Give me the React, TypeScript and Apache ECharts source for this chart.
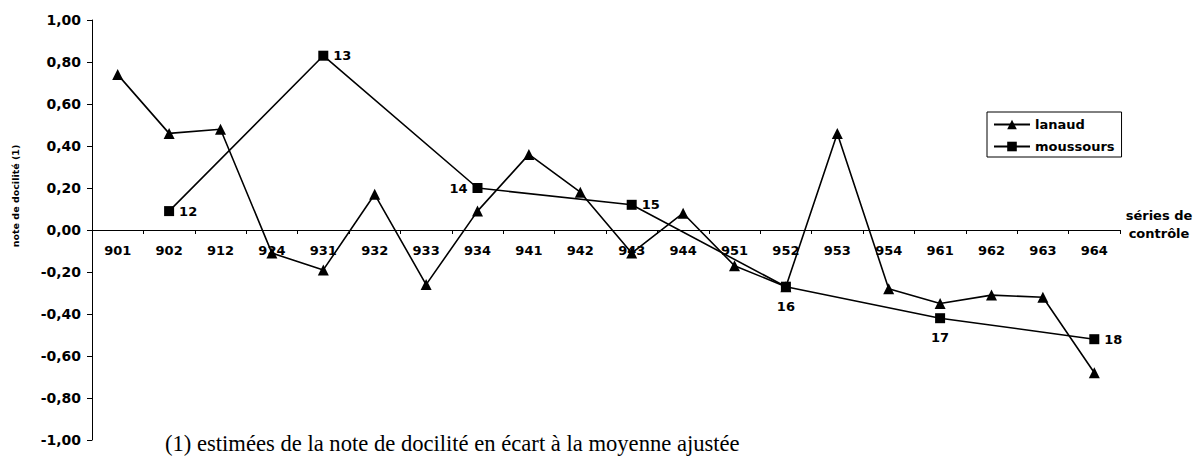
import React, { useEffect, useRef } from "react";
import * as echarts from "echarts";

const categories = ["901","902","912","924","931","932","933","934","941","942","943","944","951","952","953","954","961","962","963","964"];
const lanaud = [0.74,0.46,0.48,-0.11,-0.19,0.17,-0.26,0.09,0.36,0.18,-0.11,0.08,-0.17,-0.27,0.46,-0.28,-0.35,-0.31,-0.32,-0.68];
const moussours: (number | null)[] = [null,0.09,null,null,0.83,null,null,0.20,null,null,0.12,null,null,-0.27,null,null,-0.42,null,null,-0.52];
const moussoursLabels: (string | null)[] = [null,"12",null,null,"13",null,null,"14",null,null,"15",null,null,"16",null,null,"17",null,null,"18"];
const moussoursLabelPos: (string | null)[] = [null,"right",null,null,"right",null,null,"left",null,null,"right",null,null,"bottom",null,null,"bottom",null,null,"right"];
const yTicks = { min: -1, max: 1, interval: 0.2 };
const yTitle = "note de docilité (1)";
const xTitle = "séries de\ncontrôle";
const footnote = "(1) estimées de la note de docilité en écart à la moyenne ajustée";

const SANS = "'DejaVu Sans', Verdana, sans-serif";
const GRID_TOP = 20;
const GRID_BOTTOM_PX = 440;

export default function App() {
  const ref = useRef<HTMLDivElement>(null);
  useEffect(() => {
    if (!ref.current) return;
    const chart = echarts.init(ref.current, null, { renderer: "svg" });
    const mData = moussours.map((v, i) =>
      v === null
        ? null
        : {
            value: v,
            label: {
              show: true,
              formatter: moussoursLabels[i] as string,
              position: moussoursLabelPos[i] as any,
              distance: moussoursLabelPos[i] === "bottom" ? 8 : 5,
            },
          }
    );
    // place the category axis on the zero line of the value axis
    const zeroOffset = -((GRID_BOTTOM_PX - GRID_TOP) * (0 - yTicks.min)) / (yTicks.max - yTicks.min);
    chart.setOption({
      animation: false,
      backgroundColor: "#ffffff",
      textStyle: { fontFamily: SANS },
      grid: { left: 92, right: 80, top: GRID_TOP, bottom: 458 - GRID_BOTTOM_PX, containLabel: false },
      legend: {
        show: true,
        left: 987,
        top: 112,
        orient: "vertical",
        itemWidth: 36,
        itemHeight: 12,
        itemGap: 9,
        padding: [6, 7, 4, 6],
        borderColor: "#000",
        borderWidth: 1,
        borderRadius: 0,
        textStyle: { color: "#000", fontSize: 13, fontWeight: "bold", fontFamily: SANS },
        data: ["lanaud", "moussours"],
      },
      xAxis: {
        type: "category",
        data: categories,
        boundaryGap: true,
        offset: zeroOffset,
        axisLine: { onZero: false, lineStyle: { color: "#000", width: 1 } },
        axisTick: { show: true, inside: false, length: 4, lineStyle: { color: "#000" } },
        axisLabel: { color: "#000", fontSize: 13, fontWeight: "bold", fontFamily: SANS, margin: 14, interval: 0 },
        splitLine: { show: false },
      },
      yAxis: {
        type: "value",
        min: yTicks.min,
        max: yTicks.max,
        interval: yTicks.interval,
        axisLine: { show: true, lineStyle: { color: "#000", width: 1 } },
        axisTick: { show: true, length: 5, lineStyle: { color: "#000" } },
        axisLabel: {
          color: "#000",
          fontSize: 14,
          fontWeight: "bold",
          fontFamily: SANS,
          margin: 11,
          formatter: (v: number) => v.toFixed(2).replace(".", ","),
        },
        splitLine: { show: false },
      },
      graphic: [
        {
          type: "text",
          x: 15,
          y: 196,
          rotation: Math.PI / 2,
          style: {
            text: yTitle,
            fill: "#000",
            font: `bold 9.5px ${SANS}`,
            align: "center",
            verticalAlign: "middle",
          },
        },
        {
          type: "text",
          x: 1159,
          y: 224,
          style: {
            text: xTitle,
            fill: "#000",
            font: `bold 13px ${SANS}`,
            align: "center",
            verticalAlign: "middle",
            lineHeight: 18,
          },
        },
        {
          type: "text",
          x: 165,
          y: 443,
          style: {
            text: footnote,
            fill: "#000",
            font: "22.6px 'Liberation Serif', 'Times New Roman', serif",
            align: "left",
            verticalAlign: "middle",
          },
        },
      ],
      series: [
        {
          name: "lanaud",
          type: "line",
          data: lanaud,
          symbol: "triangle",
          symbolSize: 11,
          itemStyle: { color: "#000" },
          lineStyle: { color: "#000", width: 1.6 },
        },
        {
          name: "moussours",
          type: "line",
          data: mData,
          connectNulls: true,
          symbol: "rect",
          symbolSize: 10,
          itemStyle: { color: "#000" },
          lineStyle: { color: "#000", width: 1.6 },
          label: { color: "#000", fontSize: 13, fontWeight: "bold", fontFamily: SANS },
        },
      ],
    });
    return () => chart.dispose();
  }, []);
  return (
    <div
      ref={ref}
      style={{ position: "fixed", left: 0, top: 0, width: 1200, height: 458, background: "#fff" }}
    />
  );
}
